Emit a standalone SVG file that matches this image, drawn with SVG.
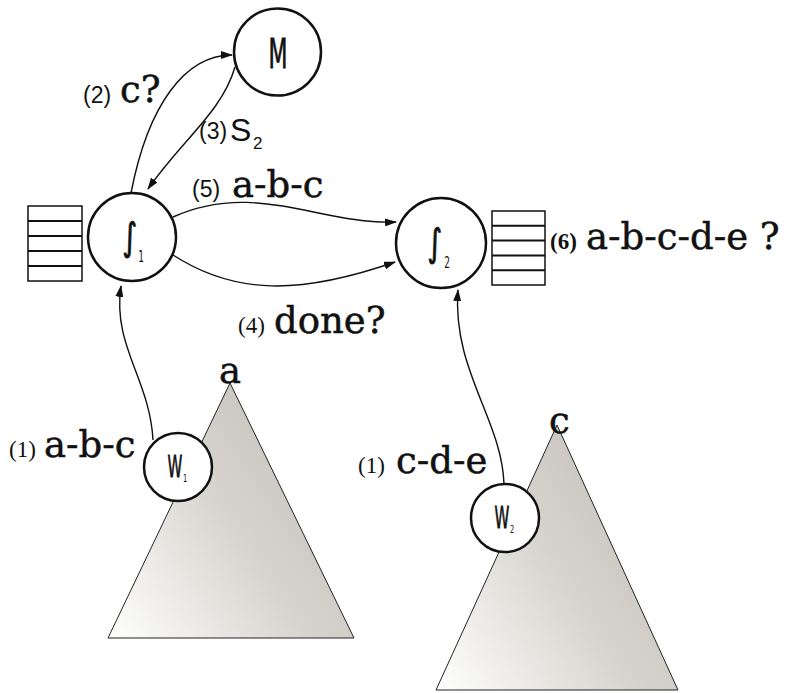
<svg xmlns="http://www.w3.org/2000/svg" width="790" height="693" viewBox="0 0 790 693">
<defs>
<linearGradient id="tri" x1="0" y1="1" x2="1" y2="0.3">
<stop offset="0" stop-color="#ffffff"/>
<stop offset="0.55" stop-color="#d6d4cd"/>
<stop offset="1" stop-color="#c2c0b8"/>
</linearGradient>
<marker id="arr" viewBox="0 0 12 8" refX="11" refY="4" markerWidth="12" markerHeight="8" markerUnits="userSpaceOnUse" orient="auto">
<path d="M0,0 L12,4 L0,8 Z" fill="#111"/>
</marker>
<style>
.node{fill:#fff;stroke:#111;stroke-width:2.5}
.tree{fill:url(#tri);stroke:#222;stroke-width:1}
.q{fill:#fff;stroke:#111;stroke-width:1.5}
.qs{stroke:#111;stroke-width:2}
.edge{fill:none;stroke:#111;stroke-width:1.4;marker-end:url(#arr)}
.big{font-family:"DejaVu Serif",serif;font-size:37px;fill:#111;stroke:#111;stroke-width:0.5}
.sm{font-family:"Liberation Sans",sans-serif;font-size:23px;fill:#111}
.smr{font-family:"Liberation Serif",serif;font-size:23px;fill:#111}
.lab{font-family:"DejaVu Sans",sans-serif;fill:#111}
.nl{stroke:#111;stroke-width:0.8}
</style>
</defs>
<g id="tree1"><polygon class="tree" points="230,383 354,638 108,638"/></g>
<g id="tree2"><polygon class="tree" points="557,425 678,690 436,690"/></g>
<g id="tree1-label"><text class="big" x="219" y="383">a</text></g>
<g id="tree2-label"><text class="big" x="549" y="433">c</text></g>

<g id="connectors">
<path class="edge" d="M153,440 C150,380 112,345 121,286"/>
<path class="edge" d="M504,484 C502,420 452,370 458,290"/>
<path class="edge" d="M131,193 C148,105 185,55 232,55"/>
<path class="edge" d="M235,67 C222,112 182,140 148,189"/>
<path class="edge" d="M173,217 C255,180 320,225 396,222"/>
<path class="edge" d="M173,255 C235,295 300,295 395,262"/>
</g>

<g id="M"><circle class="node" cx="277.5" cy="52" r="43.5"/>
<text class="lab nl" transform="translate(278,68) scale(0.55,1)" text-anchor="middle" font-size="40">M</text></g>

<g id="S1"><circle class="node" cx="132" cy="237" r="44"/>
<text class="lab nl" transform="translate(130,250) scale(0.75,1)" text-anchor="middle" font-size="38">∫</text>
<text class="lab" transform="translate(141,262) scale(0.6,1)" text-anchor="middle" font-size="15">1</text></g>

<g id="S2"><circle class="node" cx="441" cy="243" r="45"/>
<text class="lab nl" transform="translate(435,256) scale(0.75,1)" text-anchor="middle" font-size="38">∫</text>
<text class="lab" transform="translate(447,268) scale(0.6,1)" text-anchor="middle" font-size="15">2</text></g>

<g id="W1"><circle class="node" cx="178" cy="467" r="34"/>
<text class="lab nl" transform="translate(175,477) scale(0.5,1)" text-anchor="middle" font-size="30">W</text>
<text class="lab" transform="translate(185,482) scale(0.6,1)" text-anchor="middle" font-size="11">1</text></g>

<g id="W2"><circle class="node" cx="505" cy="518" r="34"/>
<text class="lab nl" transform="translate(502,528) scale(0.5,1)" text-anchor="middle" font-size="30">W</text>
<text class="lab" transform="translate(512,533) scale(0.6,1)" text-anchor="middle" font-size="11">2</text></g>

<g id="queue1"><rect class="q" x="28" y="206" width="54" height="75"/>
<path class="qs" d="M28,221H82M28,236H82M28,251H82M28,266H82"/></g>
<g id="queue2"><rect class="q" x="492" y="211" width="53" height="74"/>
<path class="qs" d="M492,225.8H545M492,240.6H545M492,255.4H545M492,270.2H545"/></g>

<g id="labels">
<text class="sm" x="83" y="103">(2)</text>
<text class="big" x="120" y="102" font-size="40">c?</text>
<text class="sm" x="199" y="139">(3)</text>
<text x="230" y="141" font-family="Liberation Sans, sans-serif" font-size="32" fill="#111">S</text>
<text x="253" y="149" font-family="Liberation Sans, sans-serif" font-size="17" fill="#111">2</text>
<text class="sm" x="192" y="197">(5)</text>
<text class="big" x="232" y="197">a-b-c</text>
<text class="smr" x="238" y="333">(4)</text>
<text class="big" x="274" y="333">done?</text>
<text class="smr" x="550" y="249" font-weight="bold" font-size="21">(6)</text>
<text class="big" x="586" y="249">a-b-c-d-e ?</text>
<text class="smr" x="9" y="457">(1)</text>
<text class="big" x="44" y="457">a-b-c</text>
<text class="smr" x="358" y="473">(1)</text>
<text class="big" x="396" y="473">c-d-e</text>
</g>
</svg>
